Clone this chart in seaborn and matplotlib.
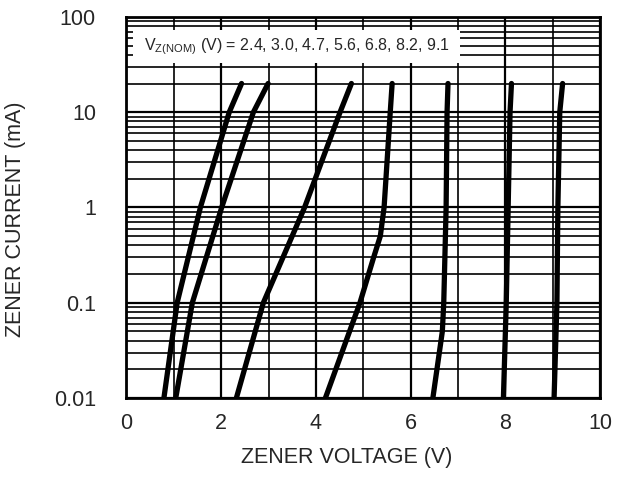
import numpy as np
import pandas as pd
import matplotlib
matplotlib.use("Agg")
import matplotlib.pyplot as plt
import matplotlib.ticker as mticker
from matplotlib.patches import Rectangle
import seaborn as sns

# zener curves: current (mA) -> voltage (V)
vz_names = ["2.4", "3.0", "4.7", "5.6", "6.8", "8.2", "9.1"]
cur_2v4 = [0.01, 0.1, 1, 10, 20]
vol_2v4 = [0.79, 1.07, 1.56, 2.17, 2.43]
cur_3v0 = [0.01, 0.1, 1, 10, 20]
vol_3v0 = [1.04, 1.39, 2.01, 2.68, 2.99]
cur_4v7 = [0.01, 0.1, 1, 10, 20]
vol_4v7 = [2.32, 2.89, 3.76, 4.51, 4.75]
cur_5v6 = [0.01, 0.1, 0.3, 0.5, 1, 10, 20]
vol_5v6 = [4.20, 4.93, 5.22, 5.36, 5.44, 5.57, 5.61]
cur_6v8 = [0.01, 0.05, 0.1, 1, 10, 20]
vol_6v8 = [6.47, 6.67, 6.70, 6.75, 6.77, 6.79]
cur_8v2 = [0.01, 0.1, 1, 10, 20]
vol_8v2 = [7.96, 8.02, 8.06, 8.10, 8.13]
cur_9v1 = [0.01, 0.1, 1, 10, 20]
vol_9v1 = [9.03, 9.09, 9.11, 9.15, 9.21]

ytick_vals = [0.01, 0.1, 1, 10, 100]
ytick_text = ["0.01", "0.1", "1", "10", "100"]
xtick_vals = [0, 2, 4, 6, 8, 10]

currents = [cur_2v4, cur_3v0, cur_4v7, cur_5v6, cur_6v8, cur_8v2, cur_9v1]
voltages = [vol_2v4, vol_3v0, vol_4v7, vol_5v6, vol_6v8, vol_8v2, vol_9v1]
rows = []
for name, cc, vv in zip(vz_names, currents, voltages):
    for c, v in zip(cc, vv):
        rows.append({"vz": name, "current": c, "voltage": v})
df = pd.DataFrame(rows)

sns.set_style("white")
plt.rcParams["font.family"] = ["Liberation Sans", "DejaVu Sans"]
plt.rcParams["mathtext.fontset"] = "custom"
plt.rcParams["mathtext.rm"] = "Liberation Sans"

fig = plt.figure(figsize=(6.21, 4.97), dpi=100)
ax = fig.add_axes([0.2037, 0.199, 0.7625, 0.767])

ax.set_yscale("log")
ax.set_xlim(0, 10)
ax.set_ylim(0.01, 100)

# grid
ax.xaxis.set_major_locator(mticker.FixedLocator(xtick_vals))
ax.xaxis.set_minor_locator(mticker.MultipleLocator(1))
ax.yaxis.set_major_locator(mticker.FixedLocator(ytick_vals))
ax.yaxis.set_major_formatter(mticker.FixedFormatter(ytick_text))
ax.yaxis.set_minor_locator(mticker.LogLocator(base=10, subs=np.arange(2, 10)))
ax.yaxis.set_minor_formatter(mticker.NullFormatter())
ax.grid(True, which="major", color="black", lw=1.6, zorder=1)
ax.grid(True, which="minor", color="black", lw=1.2, zorder=1)
ax.set_axisbelow(True)

sns.lineplot(data=df, x="voltage", y="current", hue="vz", units="vz",
             estimator=None, sort=False, palette=["black"] * 7,
             lw=3.8, legend=False, ax=ax, zorder=3)

ax.add_patch(Rectangle((0.014, 0.879), 0.691, 0.087, transform=ax.transAxes,
                       facecolor="white", edgecolor="none", zorder=4))
ax.text(0.36, 0.921, r"V$_{\mathregular{Z(NOM)}}$ (V) = " + ", ".join(vz_names),
        transform=ax.transAxes, ha="center", va="center", fontsize=11.5, zorder=5)

for s in ax.spines.values():
    s.set_color("black")
    s.set_linewidth(2)
    s.set_visible(True)

ax.tick_params(which="both", length=0, labelsize=15.5)
ax.tick_params(axis="x", pad=11)
ax.tick_params(axis="y", pad=22)
ax.set_xlabel("ZENER VOLTAGE (V)", fontsize=15.5)
ax.set_ylabel("ZENER CURRENT (mA)", fontsize=15.5)
ax.xaxis.set_label_coords(0.464, -0.127)
ax.yaxis.set_label_coords(-0.213, 0.47)

fig.savefig("out.png", dpi=100)
